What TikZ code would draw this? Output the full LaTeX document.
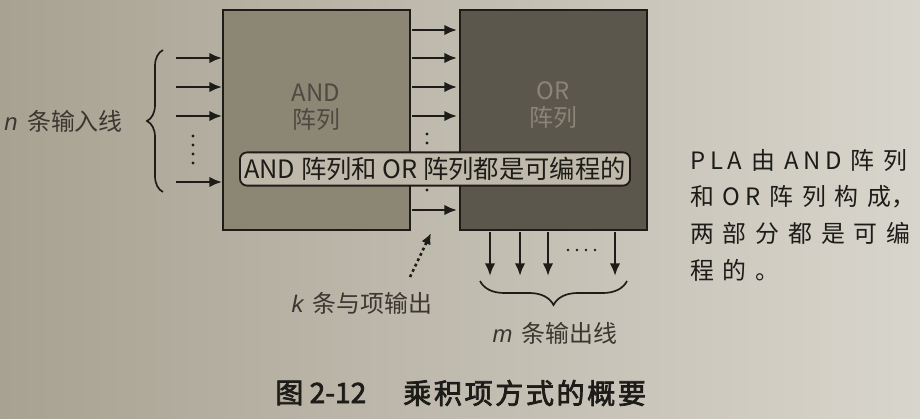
\documentclass[tikz,border=0pt]{standalone}
\usepackage{fontspec}
\setmainfont{Liberation Sans}
\newfontfamily\lat{Liberation Sans}
\newfontfamily\cjk{Noto Sans CJK SC}
\newfontfamily\cjkbf[FakeBold=2.5]{Noto Sans CJK SC}
\newfontfamily\cjkbfwide[FakeBold=2.5,LetterSpace=9]{Noto Sans CJK SC}
\usepackage{tikz}
\usetikzlibrary{arrows.meta,positioning,decorations.pathreplacing,shapes}

\definecolor{bgl}{RGB}{168,162,146}
\definecolor{bgr}{RGB}{216,213,204}
\definecolor{andgray}{RGB}{140,134,117}
\definecolor{orgray}{RGB}{92,87,77}
\definecolor{ink}{RGB}{30,28,25}
\definecolor{txtgray}{RGB}{58,55,49}
\definecolor{andtxt}{RGB}{78,74,65}
\definecolor{ortxt}{RGB}{138,133,119}
\definecolor{tagfill}{RGB}{190,185,170}

\newcommand{\pxfont}[1]{\fontsize{#1}{#1}\selectfont}
\newcommand{\ivar}[1]{{\lat\itshape #1}}
\newcommand{\sg}{\hspace{0.22cm}}
\newcommand{\tg}{\hspace{0.12cm}}

\tikzset{
  blk/.style={draw=ink,line width=2.1pt},
  arr/.style={draw=ink,line width=1.8pt,-{Latex[length=9pt,width=7.5pt]}},
  brc/.style={draw=ink,line width=1.2pt,decorate},
  boxlbl/.style={align=center,inner sep=0pt,font=\cjk\pxfont{17pt}},
  lbl/.style={text=txtgray,inner sep=0pt,font=\cjk\pxfont{17pt}},
  sidetxt/.style={anchor=west,text=ink,inner sep=0pt,font=\cjk\pxfont{17pt}},
  captxt/.style={anchor=west,text=ink,inner sep=0pt,font=\pxfont{20pt}},
  tag/.style={draw=ink,line width=1.3pt,rounded corners=5pt,fill=tagfill,text=ink,
    minimum width=9.75cm,minimum height=0.83cm,inner sep=0pt,font=\cjk\pxfont{18pt}}
}

\begin{document}
\begin{tikzpicture}[x=0.025cm,y=-0.025cm]
\shade[left color=bgl,right color=bgr] (0,0) rectangle (920,419);
\useasboundingbox (0,0) rectangle (920,419);

\coordinate (a1) at (223,10);
\coordinate (a2) at (410,230);
\coordinate (o1) at (460,10);
\coordinate (o2) at (647,230);
\draw[blk,fill=andgray] (a1) rectangle (a2);
\draw[blk,fill=orgray] (o1) rectangle (o2);
\node[boxlbl,text=andtxt] (andlbl) at (316,107) {AND\\[2pt]阵列};
\node[boxlbl,text=ortxt] (orlbl) at (553,105) {OR\\[2pt]阵列};

\coordinate (i0) at (176, 58);
\coordinate (i1) at (176, 87);
\coordinate (i2) at (176,116);
\coordinate (i3) at (176,182);
\coordinate (j0) at (222, 58);
\coordinate (j1) at (222, 87);
\coordinate (j2) at (222,116);
\coordinate (j3) at (222,182);

\coordinate (p0) at (412, 30);
\coordinate (p1) at (412, 58);
\coordinate (p2) at (412, 87);
\coordinate (p3) at (412,116);
\coordinate (p4) at (412,210);
\coordinate (q0) at (457, 30);
\coordinate (q1) at (457, 58);
\coordinate (q2) at (457, 87);
\coordinate (q3) at (457,116);
\coordinate (q4) at (457,210);

\coordinate (u0) at (490,232);
\coordinate (u1) at (520,232);
\coordinate (u2) at (548,232);
\coordinate (u3) at (615,232);
\coordinate (v0) at (490,276);
\coordinate (v1) at (520,276);
\coordinate (v2) at (548,276);
\coordinate (v3) at (615,276);

\draw[arr] (i0) -- (j0);
\draw[arr] (i1) -- (j1);
\draw[arr] (i2) -- (j2);
\draw[arr] (i3) -- (j3);
\fill[ink] (193,136) circle (1.6) (193,145) circle (1.6) (193,154) circle (1.6) (193,163) circle (1.6);

\draw[arr] (p0) -- (q0);
\draw[arr] (p1) -- (q1);
\draw[arr] (p2) -- (q2);
\draw[arr] (p3) -- (q3);
\draw[arr] (p4) -- (q4);
\fill[ink] (427,134) circle (1.6) (427,143) circle (1.6) (427,190) circle (1.6);

\draw[arr] (u0) -- (v0);
\draw[arr] (u1) -- (v1);
\draw[arr] (u2) -- (v2);
\draw[arr] (u3) -- (v3);
\fill[ink] (568,250) circle (1.4) (577,250) circle (1.4) (586,250) circle (1.4) (595,250) circle (1.4);

\node[tag] (prog) at (435,169) {AND 阵列和 OR 阵列都是可编程的};

\draw[brc,decoration={brace,amplitude=0.4cm}] (163,192) -- (163,50);
\draw[brc,decoration={brace,amplitude=0.6cm}] (627,281) -- (480,281);

\node[lbl,anchor=east] (nin) at (123,121) {\ivar{n}\, 条输入线};
\node[lbl] (kout) at (362,303) {\ivar{k}\, 条与项输出};
\node[lbl] (mout) at (555,333) {\ivar{m}\, 条输出线};

\coordinate (kt) at (410,277);
\coordinate (kh) at (431,233);
\draw[ink,line width=1.8pt,dash pattern=on 2pt off 2.2pt,-{Latex[length=8pt,width=7pt]}] (kt) -- (kh);

\node[sidetxt] (s1) at (690,160) {P\tg L\tg A\sg 由\sg A\tg N\tg D\sg 阵\sg 列};
\node[sidetxt] (s2) at (690,197) {和\sg O\tg R\sg 阵\sg 列\sg 构\sg 成，};
\node[sidetxt] (s3) at (690,233) {两\sg 部\sg 分\sg 都\sg 是\sg 可\sg 编};
\node[sidetxt] (s4) at (690,270) {程\sg 的\sg 。};

\node[captxt,font=\cjkbf\pxfont{20pt}] (cap1) at (275,393) {图 2-12};
\node[captxt,font=\cjkbfwide\pxfont{20pt}] (cap2) at (403,393) {乘积项方式的概要};
\end{tikzpicture}
\end{document}
